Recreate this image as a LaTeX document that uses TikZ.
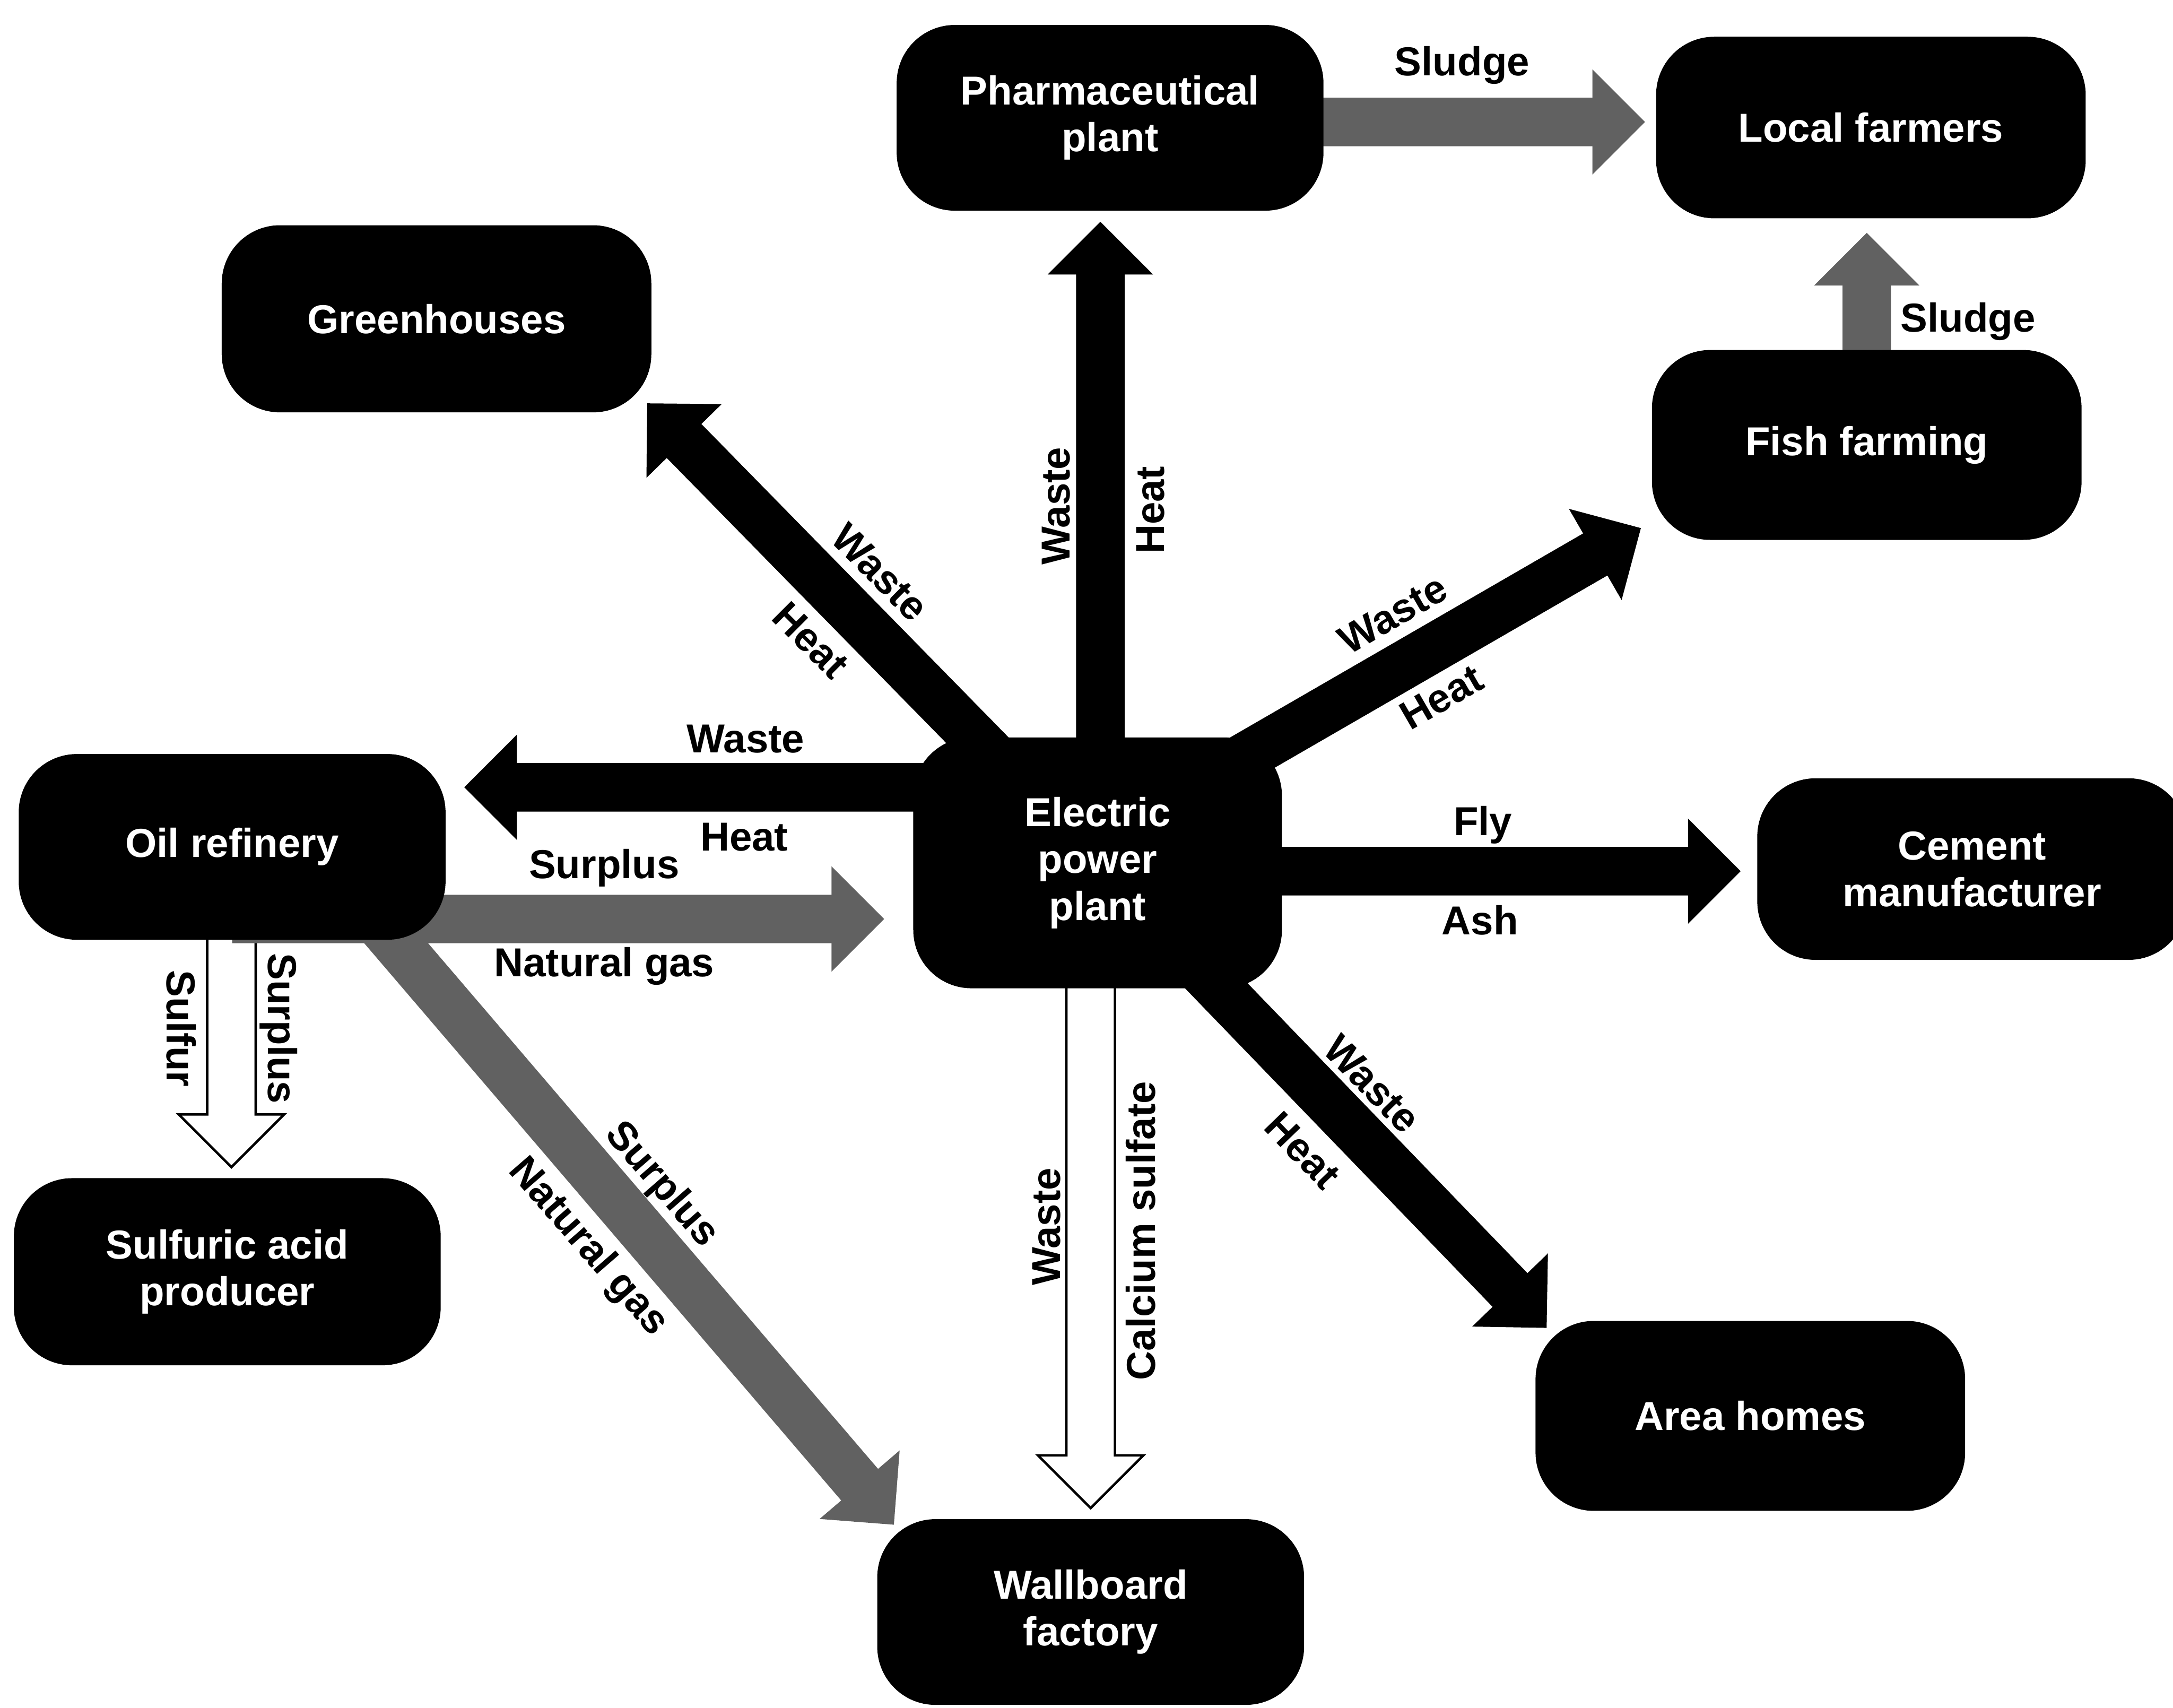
\documentclass[tikz,border=0pt]{standalone}
\usepackage{fontspec}
\setmainfont{Liberation Sans}
\usetikzlibrary{calc,backgrounds}

\tikzset{
  plant/.style={rectangle, rounded corners=0.42cm, fill=black, text=white, align=center,
    font=\fontsize{8.3}{9.6}\selectfont\bfseries,
    minimum width=3.08cm, minimum height=1.34cm, inner sep=0pt},
  flow/.style={font=\fontsize{8.3}{9.6}\selectfont\bfseries, inner sep=0pt},
  blackflow/.style={fill=black},
  grayflow/.style={fill=black!62},
  whiteflow/.style={fill=white, draw=black, line width=0.5pt},
}

% fat block arrow: [style]{start}{tip}
\newcommand{\flowarrow}[3][blackflow]{%
  \path (#2) coordinate (fa-s) (#3) coordinate (fa-t);
  \coordinate (fa-h) at ($(fa-t)!0.38cm!(fa-s)$);
  \path[#1] ($(fa-s)!0.175cm!90:(fa-t)$) -- ($(fa-h)!0.175cm!90:(fa-t)$)
    -- ($(fa-h)!0.38cm!90:(fa-t)$) -- (fa-t) -- ($(fa-h)!0.38cm!-90:(fa-t)$)
    -- ($(fa-h)!0.175cm!-90:(fa-t)$) -- ($(fa-s)!0.175cm!-90:(fa-t)$) -- cycle;
}

\begin{document}
\begin{tikzpicture}
\useasboundingbox (0,0) rectangle (15.68,-12.32);

% companies
\node [plant] (pharma) at (8.01,-0.85) {Pharmaceutical\\plant};
\node [plant, minimum width=3.1cm, minimum height=1.31cm] (farmers) at (13.50,-0.92) {Local farmers};
\node [plant, minimum width=3.1cm, minimum height=1.35cm] (green) at (3.15,-2.30) {Greenhouses};
\node [plant, minimum width=3.1cm, minimum height=1.37cm] (fish) at (13.47,-3.21) {Fish farming};
\node [plant] (oil) at (1.675,-6.11) {Oil refinery};
\node [plant, minimum width=2.66cm, minimum height=1.81cm] (power) at (7.92,-6.225) {Electric\\power\\plant};
\node [plant, minimum width=3.1cm, minimum height=1.31cm] (cement) at (14.23,-6.27) {Cement\\manufacturer};
\node [plant, minimum height=1.35cm] (acid) at (1.64,-9.175) {Sulfuric acid\\producer};
\node [plant, minimum width=3.1cm, minimum height=1.37cm] (homes) at (12.63,-10.215) {Area homes};
\node [plant] (wall) at (7.87,-11.63) {Wallboard\\factory};

% arrow tips
\coordinate (tPharma) at (7.94,-1.60);
\coordinate (tSludge) at (11.87,-0.88);
\coordinate (tFishSl) at (13.47,-1.68);
\coordinate (tGreen) at (4.67,-2.91);
\coordinate (tFish) at (11.84,-3.81);
\coordinate (tOil) at (3.35,-5.68);
\coordinate (tCement) at (12.56,-6.285);
\coordinate (tHomes) at (11.16,-9.58);
\coordinate (tWall) at (7.87,-10.88);
\coordinate (tAcid) at (1.67,-8.42);
\coordinate (tPowerGas) at (6.38,-6.63);
\coordinate (tWallGas) at (6.45,-11.00);

\begin{scope}[on background layer]
\flowarrow{tPharma |- power}{tPharma}
\flowarrow[grayflow]{pharma |- tSludge}{tSludge}
\flowarrow[grayflow]{tFishSl |- fish}{tFishSl}
\flowarrow{power}{tGreen}
\flowarrow{$(power)+(0,0.15)$}{tFish}
\flowarrow{power |- tOil}{tOil}
\flowarrow{power |- tCement}{tCement}
\flowarrow{power}{tHomes}
\flowarrow[whiteflow]{tWall |- power}{tWall}
\flowarrow[whiteflow]{tAcid |- oil}{tAcid}
\flowarrow[grayflow]{oil |- tPowerGas}{tPowerGas}
\flowarrow[grayflow]{$(oil.south east)+(-0.55,0.2)$}{tWallGas}
\end{scope}

% labels
\node [flow] (lSludgeA) at (10.55,-0.47) {Sludge};
\node [flow] (lSludgeB) at (14.20,-2.32) {Sludge};
\node [flow, rotate=90] (lPhW) at (7.62,-3.65) {Waste};
\node [flow, rotate=90] (lPhH) at (8.30,-3.68) {Heat};
\node [flow, rotate=-45] (lGrW) at (6.35,-4.13) {Waste};
\node [flow, rotate=-45] (lGrH) at (5.85,-4.62) {Heat};
\node [flow, rotate=30] (lFiW) at (10.05,-4.43) {Waste};
\node [flow, rotate=30] (lFiH) at (10.40,-5.03) {Heat};
\node [flow] (lOiW) at (5.38,-5.33) {Waste};
\node [flow] (lOiH) at (5.37,-6.04) {Heat};
\node [flow] (lGaS) at (4.36,-6.26) {Surplus};
\node [flow] (lGaN) at (4.36,-6.97) {Natural gas};
\node [flow] (lFly) at (10.70,-5.95) {Fly};
\node [flow] (lAsh) at (10.68,-6.64) {Ash};
\node [flow, rotate=-46] (lHoW) at (9.90,-7.82) {Waste};
\node [flow, rotate=-46] (lHoH) at (9.40,-8.30) {Heat};
\node [flow, rotate=-90] (lSuS) at (1.31,-7.42) {Sulfur};
\node [flow, rotate=-90] (lSuP) at (2.01,-7.42) {Surplus};
\node [flow, rotate=-49] (lWgS) at (4.77,-8.55) {Surplus};
\node [flow, rotate=-49] (lWgN) at (4.24,-9.00) {Natural gas};
\node [flow, rotate=90] (lWaW) at (7.55,-8.85) {Waste};
\node [flow, rotate=90] (lWaC) at (8.23,-8.88) {Calcium sulfate};
\end{tikzpicture}
\end{document}
